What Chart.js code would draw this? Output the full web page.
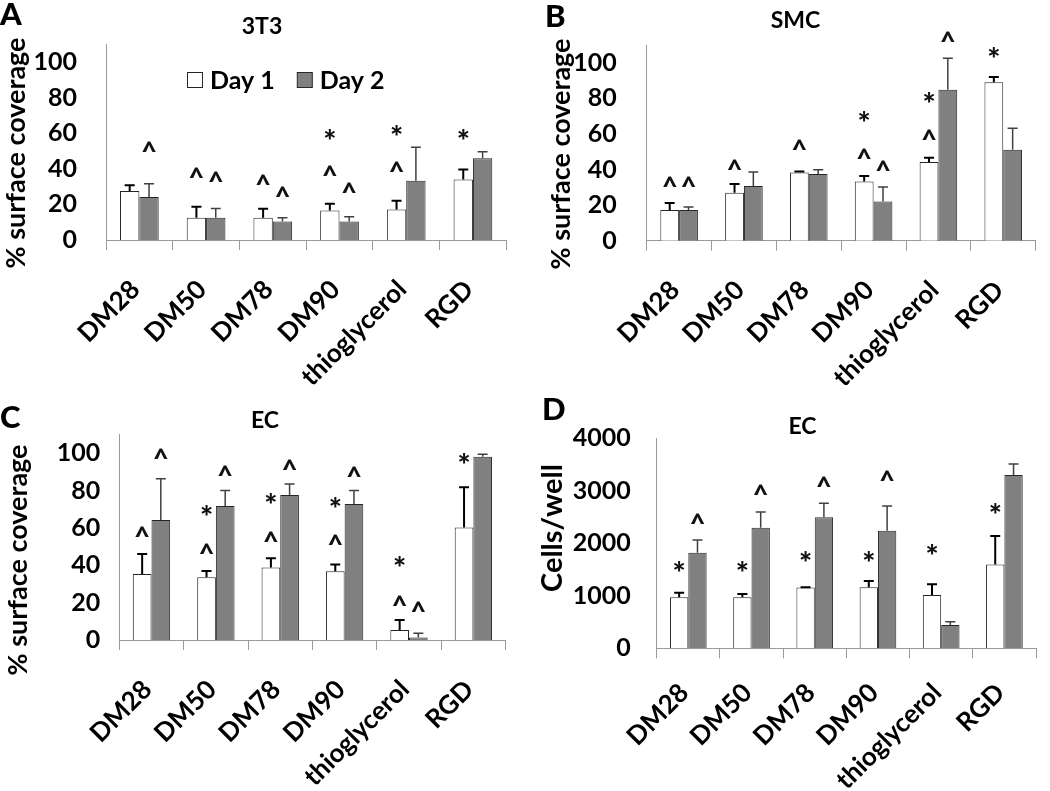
<!DOCTYPE html>
<html>
<head>
<meta charset="utf-8">
<title>Surface coverage and cell counts</title>
<script src="https://cdn.jsdelivr.net/npm/chart.js@4.4.1/dist/chart.umd.min.js"></script>
<style>
    body { margin: 0; background: #fff; width: 1050px; height: 791px; position: relative; overflow: hidden; }
    canvas { position: absolute; }
</style>
</head>
<body>
<canvas id="chartA" width="520" height="390" style="left:0;top:0"></canvas>
<canvas id="chartB" width="530" height="390" style="left:520px;top:0"></canvas>
<canvas id="chartC" width="520" height="406" style="left:0;top:385px"></canvas>
<canvas id="chartD" width="530" height="406" style="left:520px;top:385px"></canvas>
<script>
// ============================================
// DATOS
// ============================================

const categories = ['DM28', 'DM50', 'DM78', 'DM90', 'thioglycerol', 'RGD'];
const seriesNames = ['Day 1', 'Day 2'];

// A - 3T3 (% surface coverage)
const a_day1 = [27.5, 12.5, 12.5, 16.6, 17.1, 33.9];
const a_day1_err = [3.2, 6.2, 5.0, 3.8, 4.9, 5.6];
const a_day2 = [24.1, 12.5, 10.4, 10.4, 33.2, 45.9];
const a_day2_err = [7.5, 5.2, 2.1, 2.6, 18.9, 3.6];
// [category, series, symbol, value]
const a_marks = [
    [0, 1, '^', 52.7], [1, 0, '^', 38], [1, 1, '^', 35.7], [2, 0, '^', 34], [2, 1, '^', 27],
    [3, 0, '*', 59], [3, 0, '^', 39], [3, 1, '^', 29.5], [4, 0, '*', 61.6], [4, 0, '^', 41], [5, 0, '*', 59]
];

// B - SMC (% surface coverage)
const b_day1 = [17.3, 27.0, 38.4, 33.3, 44.3, 89.0];
const b_day1_err = [3.9, 4.9, 0.5, 3.0, 2.3, 3.0];
const b_day2 = [17.3, 30.8, 37.5, 22.1, 84.9, 51.1];
const b_day2_err = [1.7, 7.8, 2.4, 8.1, 17.6, 12.1];
const b_marks = [
    [0, 0, '^', 33], [0, 1, '^', 33], [1, 0, '^', 43], [2, 0, '^', 54.3], [3, 0, '*', 69.8],
    [3, 0, '^', 49], [3, 1, '^', 42], [4, 0, '*', 80.4], [4, 0, '^', 59.6], [4, 1, '^', 115], [5, 0, '*', 106]
];

// C - EC (% surface coverage)
const c_day1 = [35.4, 33.6, 38.8, 36.8, 5.4, 60.2];
const c_day1_err = [10.7, 3.4, 5.0, 3.6, 5.3, 21.6];
const c_day2 = [64.3, 71.8, 77.7, 72.9, 1.4, 98.2];
const c_day2_err = [22.0, 8.2, 5.9, 7.1, 2.2, 1.3];
const c_marks = [
    [0, 0, '^', 58], [0, 1, '^', 100], [1, 0, '*', 69.6], [1, 0, '^', 49], [1, 1, '^', 91],
    [2, 0, '*', 76], [2, 0, '^', 55.4], [2, 1, '^', 93.8], [3, 0, '*', 73.6], [3, 0, '^', 53.6],
    [3, 1, '^', 90], [4, 0, '*', 42], [4, 0, '^', 21.4], [4, 1, '^', 18.2], [5, 0, '*', 97.3]
];

// D - EC (cells/well)
const d_day1 = [971, 971, 1156, 1162, 1016, 1594];
const d_day1_err = [89, 64, 5, 121, 203, 546];
const d_day2 = [1822, 2298, 2495, 2241, 444, 3302];
const d_day2_err = [241, 299, 267, 470, 64, 209];
const d_marks = [
    [0, 0, '*', 1556], [0, 1, '^', 2476], [1, 0, '*', 1556], [1, 1, '^', 3016], [2, 0, '*', 1746],
    [2, 1, '^', 3175], [3, 0, '*', 1746], [3, 1, '^', 3283], [4, 0, '*', 1873], [5, 0, '*', 2667]
];

const pctTicks = [0, 20, 40, 60, 80, 100];
const cellTicks = [0, 1000, 2000, 3000, 4000];

// ============================================
// PLUGINS
// ============================================

const FONT = 'Lato, "Open Sans", sans-serif';

// Barras de error (solo hacia arriba)
const errorBars = {
    id: 'errorBars',
    afterDatasetsDraw(chart) {
        const ctx = chart.ctx;
        const yScale = chart.scales.y;
        chart.data.datasets.forEach((ds, i) => {
            const meta = chart.getDatasetMeta(i);
            meta.data.forEach((bar, j) => {
                const top = yScale.getPixelForValue(ds.data[j] + ds.errors[j]);
                ctx.save();
                ctx.strokeStyle = ds.errorColor;
                ctx.lineWidth = ds.errorWidth;
                ctx.beginPath();
                ctx.moveTo(bar.x, bar.y);
                ctx.lineTo(bar.x, top);
                ctx.moveTo(bar.x - 5, top);
                ctx.lineTo(bar.x + 5, top);
                ctx.stroke();
                ctx.restore();
            });
        });
    }
};

// Texto centrado en un punto segun la caja real del glifo
function centeredText(ctx, text, x, y) {
    const m = ctx.measureText(text);
    ctx.textAlign = 'center';
    ctx.textBaseline = 'alphabetic';
    ctx.fillText(text, x, y + (m.actualBoundingBoxAscent - m.actualBoundingBoxDescent) / 2);
}

function makeMarks(list) {
    return {
        id: 'sigMarks',
        afterDraw(chart) {
            const ctx = chart.ctx;
            const yScale = chart.scales.y;
            ctx.save();
            ctx.fillStyle = '#111';
            list.forEach(([cat, series, symbol, value]) => {
                const bar = chart.getDatasetMeta(series).data[cat];
                ctx.font = symbol === '*' ? '900 31px ' + FONT : '900 27px ' + FONT;
                centeredText(ctx, symbol, bar.x, yScale.getPixelForValue(value));
            });
            ctx.restore();
        }
    };
}

function makePanelText(p) {
    return {
        id: 'panelText',
        afterDraw(chart) {
            const ctx = chart.ctx;
            ctx.save();
            ctx.fillStyle = '#000';
            // letra del panel
            ctx.font = '900 31px ' + FONT;
            ctx.textAlign = 'left';
            ctx.textBaseline = 'alphabetic';
            ctx.fillText(p.letter, p.letterX, p.letterBase);
            // titulo
            ctx.font = 'bold 23px ' + FONT;
            ctx.textAlign = 'center';
            ctx.fillText(p.title, p.titleX, p.titleBase);

            // leyenda (solo panel A)
            if (p.legend) {
                ctx.font = 'bold 25px ' + FONT;
                ctx.textAlign = 'left';
                ctx.textBaseline = 'middle';
                let x = p.legend.x;
                const y = p.legend.y;
                chart.data.datasets.forEach(ds => {
                    ctx.fillStyle = ds.backgroundColor;
                    ctx.strokeStyle = ds.borderColor;
                    ctx.lineWidth = 1;
                    ctx.fillRect(x + 0.5, y - 7.5, 15, 15);
                    ctx.strokeRect(x + 0.5, y - 7.5, 15, 15);
                    ctx.fillStyle = '#000';
                    ctx.fillText(ds.label, x + 23, y + 1);
                    x += 23 + ctx.measureText(ds.label).width + 22;
                });
            }

            // titulo eje y
            ctx.fillStyle = '#000';
            ctx.translate(p.yTitleX, p.yTitleY);
            ctx.rotate(-Math.PI / 2);
            ctx.font = 'bold ' + p.yTitleSize + 'px ' + FONT;
            ctx.textAlign = 'center';
            ctx.textBaseline = 'middle';
            ctx.fillText(p.yTitle, 0, 0);
            ctx.restore();
        }
    };
}

// ============================================
// PANEL
// ============================================

function makePanel(id, p) {
    const canvas = document.getElementById(id);
    const W = canvas.width;
    const H = canvas.height;
    const area = p.area;

    return new Chart(canvas, {
        type: 'bar',
        data: {
            labels: categories,
            datasets: [
                {
                    label: seriesNames[0],
                    data: p.day1,
                    errors: p.err1,
                    errorColor: '#000',
                    errorWidth: 2,
                    backgroundColor: '#ffffff',
                    borderColor: '#262626',
                    borderWidth: 1
                },
                {
                    label: seriesNames[1],
                    data: p.day2,
                    errors: p.err2,
                    errorColor: '#404040',
                    errorWidth: 1.5,
                    backgroundColor: '#808080',
                    borderColor: '#262626',
                    borderWidth: 1
                }
            ]
        },
        options: {
            responsive: false,
            animation: false,
            events: [],
            layout: {
                padding: { left: 0, top: area.top, right: W - area.right, bottom: 0 }
            },
            datasets: {
                bar: { categoryPercentage: 0.58, barPercentage: 1.0 }
            },
            scales: {
                x: {
                    grid: {
                        offset: true,
                        drawOnChartArea: false,
                        drawTicks: true,
                        tickLength: 10,
                        color: '#9a9a9a'
                    },
                    border: { display: true, color: '#9a9a9a', width: 1 },
                    ticks: {
                        autoSkip: false,
                        minRotation: 45,
                        maxRotation: 45,
                        padding: p.xTickPad,
                        labelOffset: -4,
                        color: '#000',
                        font: { family: FONT, size: 26, weight: 'bold' }
                    },
                    afterFit: (scale) => { scale.height = H - area.bottom; }
                },
                y: {
                    min: 0,
                    max: p.yMax,
                    grid: { display: false, drawTicks: false },
                    border: { display: true, color: '#9a9a9a', width: 1 },
                    ticks: {
                        stepSize: p.yStep,
                        includeBounds: false,
                        padding: p.yTickPad,
                        color: '#000',
                        font: { family: FONT, size: 25, weight: 'bold' },
                        callback: (v) => String(v)
                    },
                    afterBuildTicks: (scale) => {
                        scale.ticks = p.yTicks.map(v => ({ value: v }));
                    },
                    afterFit: (scale) => { scale.width = area.left; }
                }
            },
            plugins: {
                tooltip: { enabled: false },
                legend: { display: false }
            }
        },
        plugins: [errorBars, makeMarks(p.marks), makePanelText(p)]
    });
}

// ============================================
// INICIALIZACION
// ============================================

makePanel('chartA', {
    day1: a_day1, err1: a_day1_err, day2: a_day2, err2: a_day2_err, marks: a_marks,
    area: { left: 106, right: 508, top: 34.6, bottom: 240 },
    yMax: 110, yStep: 20, yTicks: pctTicks, yTickPad: 29, xTickPad: 24,
    letter: 'A', letterX: 0, letterBase: 25,
    title: '3T3', titleX: 262, titleBase: 34,
    yTitle: '% surface coverage', yTitleX: 16, yTitleY: 153, yTitleSize: 27,
    legend: { x: 187, y: 80 }
});

makePanel('chartB', {
    day1: b_day1, err1: b_day1_err, day2: b_day2, err2: b_day2_err, marks: b_marks,
    area: { left: 126.7, right: 521.7, top: 34.6, bottom: 240.7 },
    yMax: 110, yStep: 20, yTicks: pctTicks, yTickPad: 30, xTickPad: 24,
    letter: 'B', letterX: 25, letterBase: 27,
    title: 'SMC', titleX: 275.5, titleBase: 28,
    yTitle: '% surface coverage', yTitleX: 41, yTitleY: 154, yTitleSize: 27
});

makePanel('chartC', {
    day1: c_day1, err1: c_day1_err, day2: c_day2, err2: c_day2_err, marks: c_marks,
    area: { left: 119.3, right: 513.3, top: 49.6, bottom: 255 },
    yMax: 110, yStep: 20, yTicks: pctTicks, yTickPad: 19, xTickPad: 24,
    letter: 'C', letterX: 0, letterBase: 43,
    title: 'EC', titleX: 265, titleBase: 43,
    yTitle: '% surface coverage', yTitleX: 18, yTitleY: 175, yTitleSize: 27
});

makePanel('chartD', {
    day1: d_day1, err1: d_day1_err, day2: d_day2, err2: d_day2_err, marks: d_marks,
    area: { left: 136.7, right: 516, top: 53.3, bottom: 263.3 },
    yMax: 4000, yStep: 1000, yTicks: cellTicks, yTickPad: 26, xTickPad: 19,
    letter: 'D', letterX: 22, letterBase: 35,
    title: 'EC', titleX: 282.5, titleBase: 49,
    yTitle: 'Cells/well', yTitleX: 33, yTitleY: 143, yTitleSize: 29
});
</script>
</body>
</html>
